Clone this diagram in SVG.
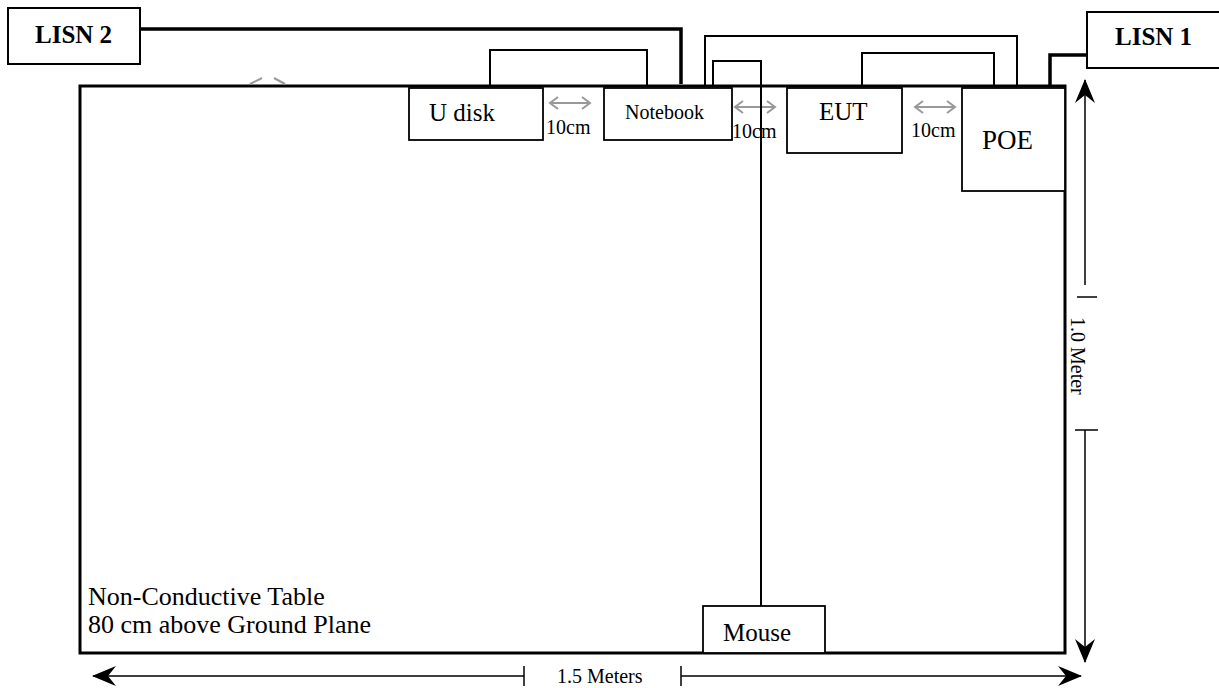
<svg xmlns="http://www.w3.org/2000/svg" width="1219" height="688" viewBox="0 0 1219 688" font-family="'Liberation Serif', 'DejaVu Serif', serif">
<style>
text{font-family:'Liberation Serif','DejaVu Serif',serif;fill:#000}
.box{fill:#fff;stroke:#000;stroke-width:1.8}
.lisn{fill:#fff;stroke:#000;stroke-width:2}
.bold{font-weight:bold;font-size:25px}
.lbl{font-size:25px}
.sm{font-size:20px}
.cable{fill:none;stroke:#000;stroke-width:2}
.thick{fill:none;stroke:#000;stroke-width:3.5}
.grey{fill:none;stroke:#999;stroke-width:2}
.dim{fill:none;stroke:#000;stroke-width:1.5}
</style>
<defs>
<marker id="ah" viewBox="0 0 24 22" refX="23" refY="11" markerWidth="24" markerHeight="22" markerUnits="userSpaceOnUse" orient="auto">
<path d="M0,1 L24,11 L0,21 L8,11 Z" fill="#000"/>
</marker>
</defs>
<rect id="table" x="80" y="86" width="985" height="567" fill="#fff" stroke="#000" stroke-width="3"/>
<g id="leftover-arrow">
<polyline class="grey" points="250,84 262,78"/>
<polyline class="grey" points="274,78 285,84"/>
</g>
<g id="connectors">
<polyline class="thick" points="140,29 681,29 681,84"/>
<polyline class="cable" points="705,85 705,36 1017,36 1017,85"/>
<polyline class="cable" points="490,85 490,50 647,50 647,85"/>
<polyline class="cable" points="862,85 862,53 994,53 994,85"/>
<polyline class="thick" points="1087,55 1050,55 1050,85"/>
</g>
<g id="lisn2"><rect class="lisn" x="8" y="8" width="132" height="56"/><text class="bold" x="35" y="43">LISN 2</text></g>
<g id="lisn1"><rect class="lisn" x="1087" y="12" width="140" height="56"/><text class="bold" x="1115" y="45">LISN 1</text></g>
<g id="udisk"><rect class="box" x="409" y="88" width="134" height="52"/><text class="lbl" x="429" y="121">U disk</text></g>
<g id="notebook"><rect class="box" x="604" y="88" width="128" height="52"/><text x="625" y="119" font-size="20">Notebook</text></g>
<g id="eut"><rect class="box" x="787" y="88" width="115" height="65"/><text class="lbl" x="819" y="120">EUT</text></g>
<g id="poe"><rect class="box" x="962" y="88" width="103" height="103"/><text x="982" y="149" font-size="27">POE</text></g>
<g id="mouse"><rect class="box" x="703" y="606" width="122" height="47"/><text class="lbl" x="723" y="641">Mouse</text></g>
<g id="spacing">
<path class="grey" d="M550,103 H590 M558,97 L550,103 L558,109 M582,97 L590,103 L582,109"/>
<text class="sm" x="546" y="134">10cm</text>
<path class="grey" d="M735,107 H775 M743,101 L735,107 L743,113 M767,101 L775,107 L767,113"/>
<text class="sm" x="732" y="138">10cm</text>
<path class="grey" d="M915,107 H955 M923,101 L915,107 L923,113 M947,101 L955,107 L947,113"/>
<text class="sm" x="911" y="137">10cm</text>
</g>
<g id="mouse-cable"><polyline class="cable" points="713,85 713,61 761,61 761,606"/></g>
<g id="table-label">
<text x="88" y="605" font-size="26">Non-Conductive Table</text>
<text x="88" y="633" font-size="26">80 cm above Ground Plane</text>
</g>
<g id="dimensions">
<line class="dim" x1="1085" y1="285" x2="1085" y2="80" marker-end="url(#ah)"/>
<line class="dim" x1="1077" y1="297" x2="1097" y2="297"/>
<line class="dim" x1="1075" y1="430" x2="1098" y2="430"/>
<line class="dim" x1="1085" y1="430" x2="1085" y2="662" marker-end="url(#ah)"/>
<text class="sm" transform="translate(1071,317) rotate(90)">1.0 Meter</text>
<line class="dim" x1="524" y1="676" x2="93" y2="676" marker-end="url(#ah)"/>
<line class="dim" x1="524" y1="666" x2="524" y2="686"/>
<line class="dim" x1="681" y1="676" x2="1081" y2="676" marker-end="url(#ah)"/>
<line class="dim" x1="681" y1="666" x2="681" y2="686"/>
<text class="sm" x="557" y="683">1.5 Meters</text>
</g>
</svg>
